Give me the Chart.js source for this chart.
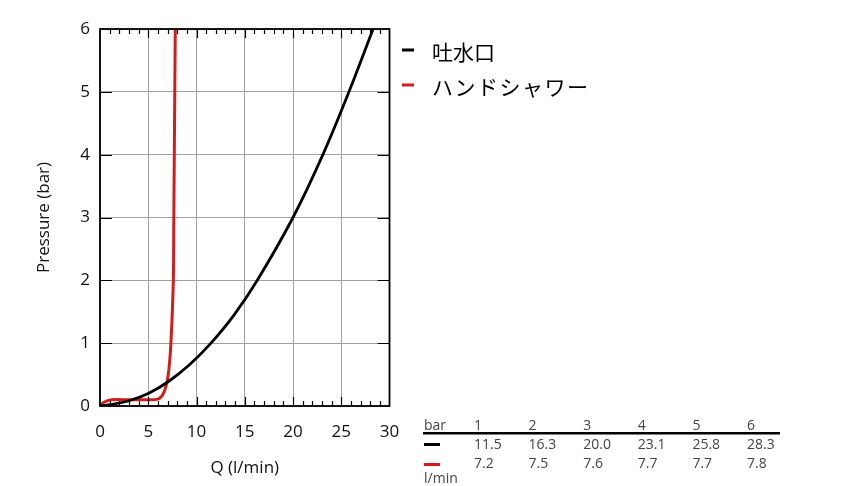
<!DOCTYPE html>
<html>
<head>
<meta charset="utf-8">
<script src="https://cdn.jsdelivr.net/npm/chart.js@4/dist/chart.umd.min.js"></script>
<style>
  body { margin: 0; background: #fff; }
</style>
</head>
<body>
<canvas id="chart" width="847" height="486"></canvas>
<script>
// table values (pressure in bar, flow in l/min)
const pressureBar = [1, 2, 3, 4, 5, 6];
const spoutFlow = [11.5, 16.3, 20.0, 23.1, 25.8, 28.3];
const showerFlow = [7.2, 7.5, 7.6, 7.7, 7.7, 7.8];

// curves
const spoutCurveQ = [0, 1, 2.9, 5, 7.1, 9.3, 11.5, 13.9, 16.3, 20.0, 23.1, 25.8, 28.3];
const spoutCurveP = [0, 0.02, 0.08, 0.2, 0.39, 0.66, 1, 1.45, 2, 3, 4, 5, 6];
const showerCurveQ = [0, 0.4, 1.2, 3, 5, 6, 6.5, 6.9, 7.15, 7.35, 7.6, 7.65, 7.7, 7.75, 7.8];
const showerCurveP = [0, 0.06, 0.1, 0.1, 0.1, 0.11, 0.18, 0.35, 0.6, 1, 2, 3, 4, 5, 6];

const seriesLabels = ['吐水口', 'ハンドシャワー'];
const seriesColors = ['#000000', '#d41c1c'];

const xTitle = 'Q (l/min)';
const yTitle = 'Pressure (bar)';
const tableHead = 'bar';
const tableUnit = 'l/min';

const toPoints = (qs, ps) => qs.map((q, i) => ({ x: q, y: ps[i] }));

const tickFont = { family: "'Open Sans', sans-serif", size: 17 };

// inward tick marks, frame, legend and the little table on the right
const decorations = {
    id: 'decorations',
    afterDraw(chart) {
        const ctx = chart.ctx;
        const area = chart.chartArea;
        const xs = chart.scales.x;
        const ys = chart.scales.y;
        ctx.save();
        ctx.strokeStyle = '#000';
        ctx.lineWidth = 1.2;
        ctx.beginPath();
        for (let q = 1; q < 30; q++) {
            const px = Math.round(xs.getPixelForValue(q)) + 0.5;
            const len = q % 5 === 0 ? 9 : 5;
            ctx.moveTo(px, area.bottom); ctx.lineTo(px, area.bottom - len);
            ctx.moveTo(px, area.top); ctx.lineTo(px, area.top + len);
        }
        for (let p = 1; p < 6; p++) {
            const py = Math.round(ys.getPixelForValue(p)) + 0.5;
            ctx.moveTo(area.left, py); ctx.lineTo(area.left + 12, py);
            ctx.moveTo(area.right, py); ctx.lineTo(area.right - 12, py);
        }
        ctx.stroke();
        ctx.lineWidth = 1.8;
        ctx.strokeRect(area.left, area.top, area.right - area.left, area.bottom - area.top);

        // legend
        ctx.font = "21px 'Noto Sans CJK JP', sans-serif";
        ctx.textBaseline = 'middle';
        ctx.textAlign = 'left';
        chart.data.datasets.forEach((ds, i) => {
            const y = 50 + i * 35;
            ctx.fillStyle = ds.borderColor;
            ctx.fillRect(402, y - 1.5, 12, 3);
            ctx.fillStyle = '#000';
            ctx.letterSpacing = i === 1 ? '1.5px' : '0px';
            ctx.fillText(ds.label, 432, y + 2);
        });
        ctx.letterSpacing = '0px';

        // table
        const colX = (i) => 474 + i * 54.6;
        ctx.font = "14px 'Open Sans', sans-serif";
        ctx.fillStyle = '#444';
        ctx.fillText(tableHead, 424, 426);
        pressureBar.forEach((p, i) => ctx.fillText(String(p), colX(i), 426));
        ctx.fillStyle = '#000';
        ctx.fillRect(423, 432, 357, 2.5);
        ctx.fillStyle = seriesColors[0];
        ctx.fillRect(424, 443, 16, 3);
        ctx.fillStyle = seriesColors[1];
        ctx.fillRect(424, 463, 16, 3);
        ctx.fillStyle = '#444';
        spoutFlow.forEach((v, i) => ctx.fillText(v.toFixed(1), colX(i), 445));
        showerFlow.forEach((v, i) => ctx.fillText(v.toFixed(1), colX(i), 464));
        ctx.fillText(tableUnit, 424, 479);
        ctx.restore();
    }
};

new Chart(document.getElementById('chart'), {
    type: 'scatter',
    data: {
        datasets: [
            {
                label: seriesLabels[0],
                data: toPoints(spoutCurveQ, spoutCurveP),
                showLine: true,
                borderColor: seriesColors[0],
                borderWidth: 2.8,
                pointRadius: 0,
                tension: 0.35
            },
            {
                label: seriesLabels[1],
                data: toPoints(showerCurveQ, showerCurveP),
                showLine: true,
                borderColor: seriesColors[1],
                borderWidth: 3,
                pointRadius: 0,
                tension: 0.25
            }
        ]
    },
    options: {
        responsive: false,
        animation: false,
        layout: { padding: { top: 29, right: 457.5, left: 0, bottom: 0 } },
        plugins: {
            legend: { display: false },
            tooltip: { enabled: false }
        },
        scales: {
            x: {
                type: 'linear',
                min: 0,
                max: 30,
                ticks: { stepSize: 5, padding: 16, color: '#111', font: tickFont },
                grid: { color: '#a0a0a0', lineWidth: 1, drawTicks: false },
                border: { display: false },
                title: { display: true, text: xTitle, color: '#111', font: tickFont, padding: { top: 0, bottom: 8 } },
                afterFit: (scale) => { scale.height = 80; }
            },
            y: {
                min: 0,
                max: 6,
                ticks: { stepSize: 1, padding: 10, color: '#111', font: tickFont },
                grid: { color: '#a0a0a0', lineWidth: 1, drawTicks: false },
                border: { display: false },
                title: { display: true, text: yTitle, color: '#111', font: tickFont, padding: { top: 34, bottom: 0 } },
                afterFit: (scale) => { scale.width = 100; }
            }
        }
    },
    plugins: [decorations]
});
</script>
</body>
</html>
